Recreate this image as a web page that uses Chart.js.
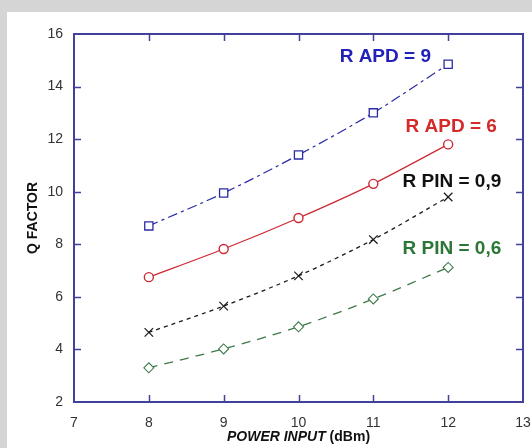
<!DOCTYPE html>
<html>
<head>
<meta charset="utf-8">
<script src="https://cdn.jsdelivr.net/npm/chart.js@4.4.1/dist/chart.umd.min.js"></script>
<style>
  html, body { margin: 0; padding: 0; background: #d5d5d5; }
  #wrap { width: 532px; height: 448px; }
</style>
</head>
<body>
<div id="wrap"><canvas id="qChart" width="532" height="448"></canvas></div>
<script>
// Q factor vs optical input power, four receiver configurations
const powerInput = [8, 9, 10, 11, 12];
const qApd9 = [8.7, 9.95, 11.4, 13.0, 14.85];
const qApd6 = [6.75, 7.82, 9.0, 10.3, 11.8];
const qPin09 = [4.65, 5.65, 6.8, 8.18, 9.8];
const qPin06 = [3.3, 4.02, 4.86, 5.92, 7.12];

const seriesNames = ['R APD = 9', 'R APD = 6', 'R PIN = 0,9', 'R PIN = 0,6'];
// where each series name sits, in axis units (x, y)
const nameX = [11.16, 12.04, 12.05, 12.05];
const nameY = [15.13, 12.46, 10.37, 7.83];

const xTicks = [7, 8, 9, 10, 11, 12, 13];
const yTicks = [2, 4, 6, 8, 10, 12, 14, 16];

const frameColor = '#41419b';
const lineColors = ['#2b2ba6', '#cc2a35', '#1a1a1a', '#3d7a48'];
const textColors = ['#2222b8', '#d42a2a', '#111111', '#2c7636'];

const toPoints = vals => powerInput.map((p, i) => ({ x: p, y: vals[i] }));

// light panel behind the plot
const panelPlugin = {
  id: 'panel',
  beforeDraw(chart) {
    const ctx = chart.ctx;
    ctx.save();
    ctx.fillStyle = '#d5d5d5';
    ctx.fillRect(0, 0, chart.width, chart.height);
    ctx.fillStyle = '#ffffff';
    ctx.fillRect(7, 12, chart.width - 7, chart.height - 12);
    ctx.restore();
  }
};

// box around the plot with inward tick marks on all four sides
const framePlugin = {
  id: 'frame',
  afterDraw(chart) {
    const { ctx, chartArea: { left, right, top, bottom }, scales: { x, y } } = chart;
    ctx.save();
    ctx.strokeStyle = frameColor;
    ctx.lineWidth = 2;
    ctx.strokeRect(left, top, right - left, bottom - top);
    ctx.lineWidth = 1.5;
    ctx.beginPath();
    xTicks.slice(1, -1).forEach(v => {
      const px = Math.round(x.getPixelForValue(v)) + 0.5;
      ctx.moveTo(px, bottom); ctx.lineTo(px, bottom - 7);
      ctx.moveTo(px, top); ctx.lineTo(px, top + 7);
    });
    yTicks.slice(1, -1).forEach(v => {
      const py = Math.round(y.getPixelForValue(v)) + 0.5;
      ctx.moveTo(left, py); ctx.lineTo(left + 7, py);
      ctx.moveTo(right, py); ctx.lineTo(right - 7, py);
    });
    ctx.stroke();

    // axis titles
    ctx.fillStyle = '#111';
    ctx.textBaseline = 'middle';
    ctx.save();
    ctx.translate(33, (top + bottom) / 2);
    ctx.rotate(-Math.PI / 2);
    ctx.textAlign = 'center';
    ctx.font = 'bold 14px "Liberation Sans", Arial, sans-serif';
    ctx.fillText('Q FACTOR', 0, 0);
    ctx.restore();

    const part1 = 'POWER INPUT';
    const part2 = ' (dBm)';
    const f1 = 'italic bold 14px "Liberation Sans", Arial, sans-serif';
    const f2 = 'bold 14px "Liberation Sans", Arial, sans-serif';
    ctx.font = f1;
    const w1 = ctx.measureText(part1).width;
    ctx.font = f2;
    const w2 = ctx.measureText(part2).width;
    let sx = (left + right) / 2 - (w1 + w2) / 2;
    ctx.textAlign = 'left';
    ctx.font = f1;
    ctx.fillText(part1, sx, 437);
    ctx.font = f2;
    ctx.fillText(part2, sx + w1, 437);
    ctx.restore();
  }
};

// series names written next to the curves
const namesPlugin = {
  id: 'names',
  afterDatasetsDraw(chart) {
    const { ctx, scales: { x, y } } = chart;
    ctx.save();
    ctx.font = 'bold 19px "Liberation Sans", Arial, sans-serif';
    ctx.textAlign = 'center';
    ctx.textBaseline = 'middle';
    seriesNames.forEach((name, i) => {
      ctx.fillStyle = textColors[i];
      ctx.fillText(name, x.getPixelForValue(nameX[i]), y.getPixelForValue(nameY[i]));
    });
    ctx.restore();
  }
};

const ctx = document.getElementById('qChart').getContext('2d');
new Chart(ctx, {
  type: 'line',
  data: {
    datasets: [
      {
        label: seriesNames[0],
        data: toPoints(qApd9),
        borderColor: lineColors[0],
        borderWidth: 1.2,
        borderDash: [10, 4, 3, 4],
        pointStyle: 'rect',
        pointRadius: 5.8,
        pointBorderWidth: 1.3,
        pointBorderColor: lineColors[0],
        pointBackgroundColor: '#fff',
        tension: 0.3
      },
      {
        label: seriesNames[1],
        data: toPoints(qApd6),
        borderColor: lineColors[1],
        borderWidth: 1.3,
        pointStyle: 'circle',
        pointRadius: 4.5,
        pointBorderWidth: 1.4,
        pointBorderColor: lineColors[1],
        pointBackgroundColor: '#fff',
        tension: 0.3
      },
      {
        label: seriesNames[2],
        data: toPoints(qPin09),
        borderColor: lineColors[2],
        borderWidth: 1.3,
        borderDash: [4, 4],
        pointStyle: 'crossRot',
        pointRadius: 6,
        pointBorderWidth: 1.2,
        pointBorderColor: lineColors[2],
        tension: 0.3
      },
      {
        label: seriesNames[3],
        data: toPoints(qPin06),
        borderColor: lineColors[3],
        borderWidth: 1.3,
        borderDash: [9, 7],
        pointStyle: 'rectRot',
        pointRadius: 5,
        pointBorderWidth: 1.1,
        pointBorderColor: lineColors[3],
        pointBackgroundColor: '#fff',
        tension: 0.3
      }
    ]
  },
  options: {
    responsive: false,
    animation: false,
    layout: { padding: { left: 0, right: 9, top: 34, bottom: 0 } },
    plugins: {
      legend: { display: false },
      tooltip: { enabled: false }
    },
    scales: {
      x: {
        type: 'linear',
        min: xTicks[0],
        max: xTicks[xTicks.length - 1],
        afterBuildTicks: scale => { scale.ticks = xTicks.map(v => ({ value: v })); },
        afterFit: scale => {
          scale.height = 46;
          scale.paddingLeft = 0;
          scale.paddingRight = 0;
        },
        grid: { display: false, drawTicks: false },
        border: { display: false },
        ticks: {
          padding: 13,
          color: '#333',
          font: { family: '"Liberation Sans", Arial, sans-serif', size: 14 }
        }
      },
      y: {
        min: yTicks[0],
        max: yTicks[yTicks.length - 1],
        afterBuildTicks: scale => { scale.ticks = yTicks.map(v => ({ value: v })); },
        afterFit: scale => {
          scale.width = 74;
          scale.paddingTop = 0;
          scale.paddingBottom = 0;
        },
        grid: { display: false, drawTicks: false },
        border: { display: false },
        ticks: {
          padding: 11,
          color: '#333',
          font: { family: '"Liberation Sans", Arial, sans-serif', size: 14 }
        }
      }
    }
  },
  plugins: [panelPlugin, framePlugin, namesPlugin]
});
</script>
</body>
</html>
